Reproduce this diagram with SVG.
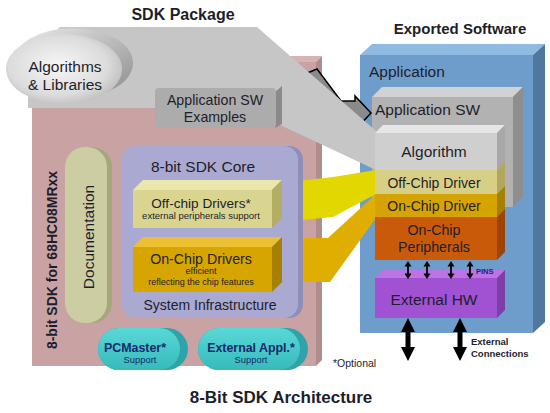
<svg xmlns="http://www.w3.org/2000/svg" width="550" height="413" viewBox="0 0 550 413">
<defs>
<linearGradient id="rimG" x1="0" y1="0" x2="1" y2="1">
<stop offset="0" stop-color="#ececec"/><stop offset="1" stop-color="#8c8c8c"/>
</linearGradient>
<radialGradient id="faceG" cx="0.45" cy="0.45" r="0.6">
<stop offset="0" stop-color="#f6f6f6"/><stop offset="0.7" stop-color="#dcdcdc"/><stop offset="1" stop-color="#bdbdbd"/>
</radialGradient>
<linearGradient id="tealG" x1="0" y1="0" x2="0" y2="1">
<stop offset="0" stop-color="#5ad8d8"/><stop offset="1" stop-color="#36baba"/>
</linearGradient>
<polygon id="pin" points="0,0 3.5,5.5 0.9,5.5 0.9,12.5 3.5,12.5 0,18 -3.5,12.5 -0.9,12.5 -0.9,5.5 -3.5,5.5" fill="#000"/>
<polygon id="ext" points="0,0 7,14 2.5,14 2.5,29 7,29 0,43 -7,29 -2.5,29 -2.5,14 -7,14" fill="#000"/>
</defs>
<style>
text{font-family:"Liberation Sans",Arial,sans-serif;}
.t{fill:#1e1e2a;}
.n{fill:#152a6a;}
.b{font-weight:bold;}
.c{text-anchor:middle;}
</style>

<text x="183" y="20" class="t b c" font-size="16">SDK Package</text>
<text x="460" y="34" class="t b c" font-size="15">Exported Software</text>

<g id="sdk-package">
<polygon points="32,62 38,56 322,56 316,62" fill="#d6b4b4"/>
<polygon points="316,62 322,56 322,360 316,366" fill="#b08c8c"/>
<rect x="32" y="62" width="284" height="304" fill="#c9a3a3"/>
<text transform="translate(57,260) rotate(-90)" class="t b c" font-size="14">8-bit SDK for 68HC08MRxx</text>
</g>

<g id="exported">
<polygon points="360,55 372,44 545,44 533,55" fill="#8fbbe2"/>
<polygon points="533,55 545,44 545,322 533,333" fill="#50789e"/>
<rect x="360" y="55" width="173" height="278" fill="#6e9dcb"/>
<text x="369" y="77" class="t" font-size="15.5">Application</text>
</g>

<g id="app-sw">
<polygon points="372,97 382,87 523,87 513,97" fill="#d2d2d2"/>
<polygon points="513,97 523,87 523,197 513,207" fill="#8e8e8e"/>
<rect x="372" y="97" width="141" height="110" fill="#b2b2b2"/>
<text x="375" y="115" class="t" font-size="15.5">Application SW</text>
</g>

<g id="external-hw">
<polygon points="375,278 383,270 505,270 497,278" fill="#bc74e4"/>
<polygon points="497,278 505,270 505,310 497,318" fill="#7e3ea8"/>
<rect x="375" y="278" width="122" height="40" fill="#a052d2"/>
<text x="434" y="305" class="t c" font-size="15.5">External HW</text>
</g>

<g id="connectors">
<polygon points="300,76 317,69 341,101 355,101 355,96 371,113 355,130 355,125 320,125" fill="#8a8a8a" stroke="#000" stroke-width="1.5" stroke-linejoin="miter"/>
<polygon points="28,60 60,27 257,27 376,131 376,170 244,108 28,108" fill="#c6c6c6"/>
<polygon points="280,183 333,177 376,170 376,194 333,217 280,222" fill="#e2d800"/>
<polygon points="280,238 328,238 376,194 376,218 330,282 280,282" fill="#e0ae00"/>
<use href="#pin" x="408" y="261"/>
<use href="#pin" x="427" y="261"/>
<use href="#pin" x="451" y="261"/>
<use href="#pin" x="470" y="261"/>
<use href="#ext" x="408" y="318"/>
<use href="#ext" x="460" y="318"/>
</g>
<text x="476" y="274" class="n b" font-size="7.5">PINS</text>
<text x="471" y="345" class="t b" font-size="9.5">External</text>
<text x="471" y="357" class="t b" font-size="9.5">Connections</text>
<text x="333" y="367" class="t" font-size="10.5">*Optional</text>

<g id="algorithms-libraries">
<ellipse cx="73" cy="63" rx="60" ry="35" fill="url(#rimG)"/>
<ellipse cx="64" cy="69" rx="58" ry="35" fill="url(#faceG)"/>
<text x="65" y="72" class="t c" font-size="15.5">Algorithms</text>
<text x="65" y="90" class="t c" font-size="15.5">&amp; Libraries</text>
</g>

<g id="app-sw-examples">
<polygon points="275,92 282,86 282,124 275,128" fill="#8a8a8a"/>
<rect x="155" y="88" width="121" height="40" rx="4" fill="#acacac"/>
<text x="215" y="105" class="t c" font-size="14.2">Application SW</text>
<text x="215" y="122" class="t c" font-size="14.2">Examples</text>
</g>

<g id="documentation">
<rect x="70" y="147" width="42" height="176" rx="20" fill="#a6a67e"/>
<rect x="65" y="147" width="42" height="176" rx="20" fill="#cdcda3"/>
<text transform="translate(94,237) rotate(-90)" class="t c" font-size="15.5">Documentation</text>
</g>

<g id="sdk-core">
<rect x="127" y="146" width="176" height="172" rx="14" fill="#8e8eb8"/>
<rect x="122" y="146" width="176" height="172" rx="14" fill="#a9a9d2"/>
<text x="203" y="172" class="t c" font-size="15.5">8-bit SDK Core</text>
<text x="210" y="310" class="t c" font-size="14">System Infrastructure</text>
</g>

<g id="off-chip-drivers">
<polygon points="133,190 143,180 282,180 272,190" fill="#ebe7ac"/>
<polygon points="272,190 282,180 282,218 272,228" fill="#b4ae64"/>
<rect x="133" y="190" width="139" height="38" fill="#d9d590"/>
<text x="201" y="208" class="t c" font-size="13.6">Off-chip Drivers*</text>
<text x="201" y="219" class="t c" font-size="9.5">external peripherals support</text>
</g>

<g id="on-chip-drivers">
<polygon points="133,247 143,237 282,237 272,247" fill="#ecc032"/>
<polygon points="272,247 282,237 282,282 272,292" fill="#a88000"/>
<rect x="133" y="247" width="139" height="45" fill="#d6a500"/>
<text x="201" y="264" class="t c" font-size="14.2">On-Chip Drivers</text>
<text x="201" y="274" class="t c" font-size="9">efficient</text>
<text x="201" y="284.5" class="t c" font-size="9">reflecting the chip features</text>
</g>

<g id="pcmaster">
<rect x="98" y="328" width="90" height="42" rx="21" fill="#2ea4aa"/>
<rect x="98" y="328" width="82" height="42" rx="21" fill="url(#tealG)"/>
<text x="135" y="352" class="n b c" font-size="12.4">PCMaster*</text>
<text x="140" y="363" class="n c" font-size="9.4">Support</text>
</g>

<g id="external-appl">
<rect x="198" y="328" width="110" height="42" rx="21" fill="#2ea4aa"/>
<rect x="198" y="328" width="102" height="42" rx="21" fill="url(#tealG)"/>
<text x="251" y="352" class="n b c" font-size="12.4">External Appl.*</text>
<text x="251" y="363" class="n c" font-size="9.4">Support</text>
</g>

<g id="algorithm">
<polygon points="375,133 383,125 505,125 497,133" fill="#e6e6e6"/>
<polygon points="497,133 505,125 505,162 497,170" fill="#a8a8a8"/>
<rect x="375" y="133" width="122" height="37" fill="#cfcfcf"/>
<text x="434" y="157" class="t c" font-size="15.5">Algorithm</text>
</g>
<g id="off-chip-driver">
<polygon points="497,170 505,162 505,186 497,194" fill="#b0a85c"/>
<rect x="375" y="170" width="122" height="24" fill="#d8cf86"/>
<text x="434" y="188" class="t c" font-size="14">Off-Chip Driver</text>
</g>
<g id="on-chip-driver">
<polygon points="497,194 505,186 505,209 497,217" fill="#a88000"/>
<rect x="375" y="194" width="122" height="23" fill="#d6a402"/>
<text x="434" y="211" class="t c" font-size="14">On-Chip Driver</text>
</g>
<g id="on-chip-peripherals">
<polygon points="497,217 505,209 505,252 497,260" fill="#9c4400"/>
<rect x="375" y="217" width="122" height="43" fill="#c95a0a"/>
<text x="434" y="235" class="t c" font-size="14.2">On-Chip</text>
<text x="434" y="252" class="t c" font-size="14.2">Peripherals</text>
</g>

<text x="281" y="403" class="t b c" font-size="17">8-Bit SDK Architecture</text>
</svg>
